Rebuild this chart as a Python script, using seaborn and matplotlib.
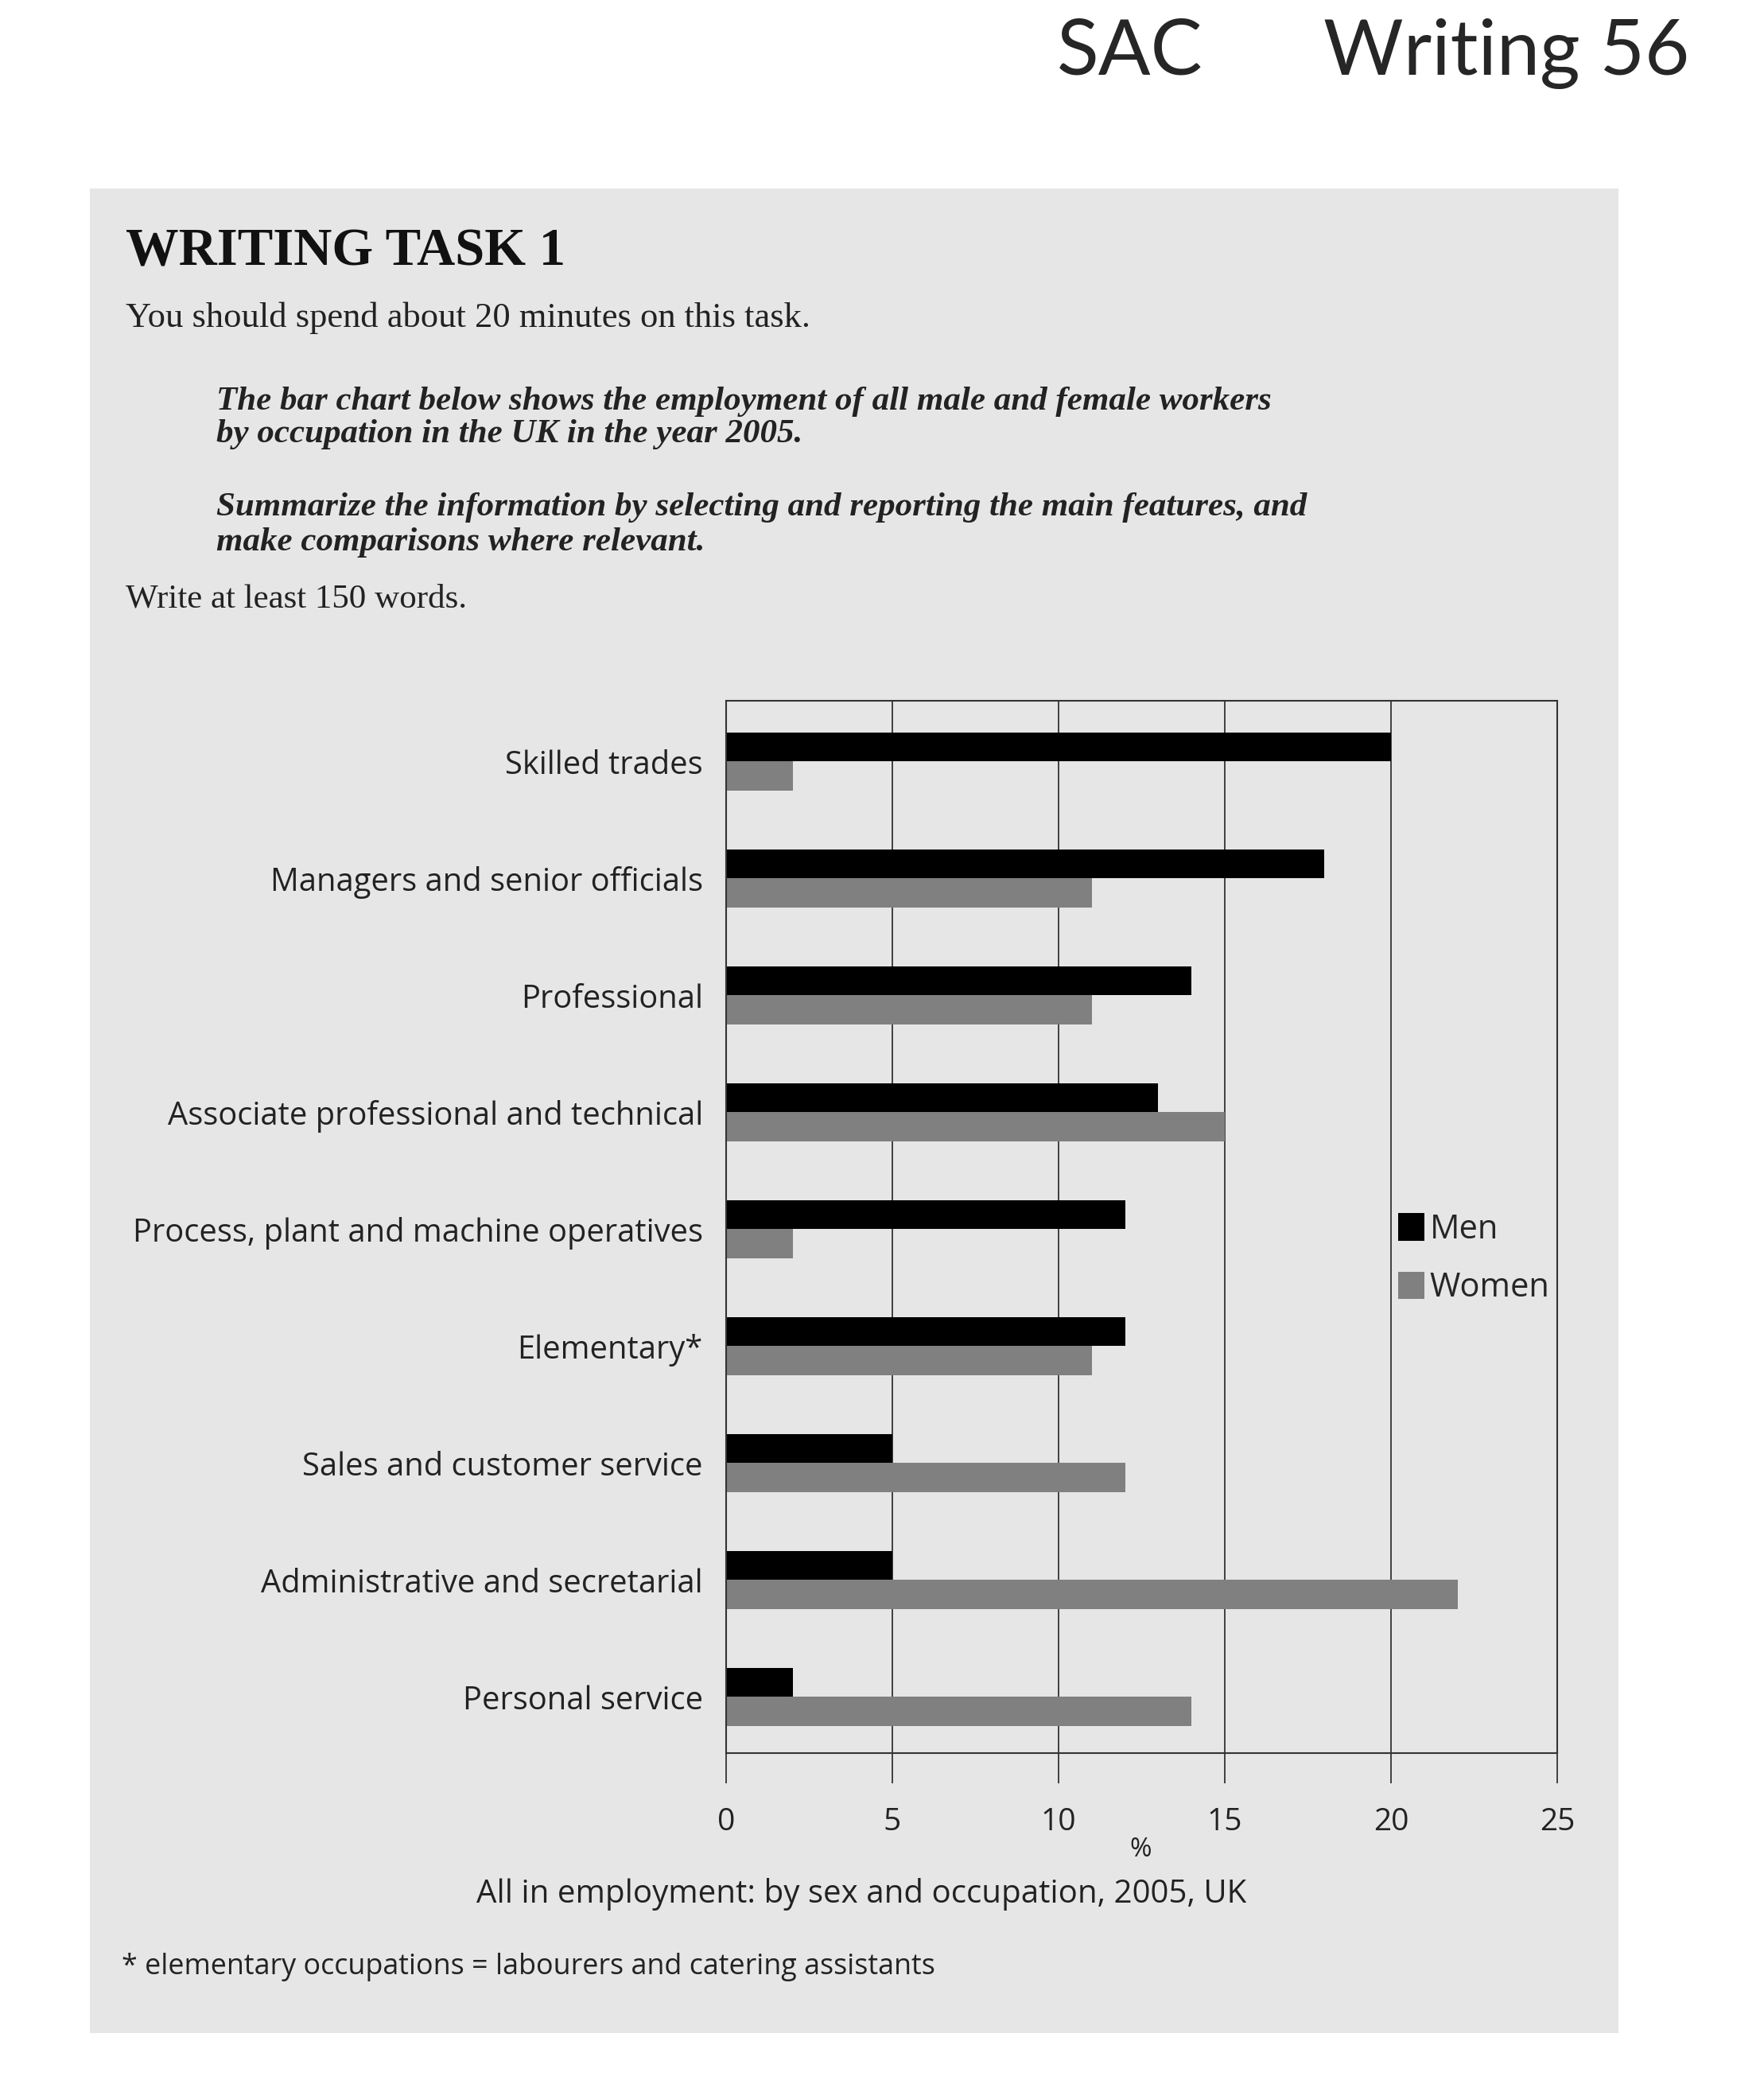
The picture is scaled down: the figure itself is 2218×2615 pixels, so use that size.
import numpy as np
import pandas as pd
import matplotlib
matplotlib.use("Agg")
import matplotlib.pyplot as plt
import seaborn as sns
from matplotlib.patches import Rectangle

# data (percent of all in employment, 2005, UK)
occupations = ["Skilled trades",
               "Managers and senior officials",
               "Professional",
               "Associate professional and technical",
               "Process, plant and machine operatives",
               "Elementary*",
               "Sales and customer service",
               "Administrative and secretarial",
               "Personal service"]
men = [20, 18, 14, 13, 12, 12, 5, 5, 2]
women = [2, 11, 11, 15, 2, 11, 12, 22, 14]
x_ticks = [0, 5, 10, 15, 20, 25]

df = pd.DataFrame({
	"occupation": occupations * 2,
	"sex": ["Men"] * len(men) + ["Women"] * len(women),
	"value": men + women,
})

sns.set_style("white")
plt.rcParams['font.family'] = ['Open Sans', 'DejaVu Sans']

W, H = 2218, 2615
fig = plt.figure(figsize=(W / 100, H / 100), dpi=100)
fig.patch.set_facecolor("white")

def fx(px):
	return px / W

def fy(py):
	return 1 - py / H

panel = "#e6e6e6"
line_col = "#333333"

# grey page panel behind everything
fig.patches.append(Rectangle((fx(113), fy(2556)), fx(2035) - fx(113),
							 fy(237) - fy(2556), transform=fig.transFigure,
							 facecolor=panel, edgecolor="none", zorder=-5))

# header
fig.text(fx(1329), fy(67), "SAC", fontsize=70, family="Lato",
		 va="center", ha="left")
fig.text(fx(1664), fy(67), "Writing 56", fontsize=70, family="Lato",
		 va="center", ha="left")

serif = "Liberation Serif"
fig.text(fx(158), fy(317), "WRITING TASK 1", fontsize=48, family=serif,
		 fontweight="bold", va="center", color="#111111")
fig.text(fx(158), fy(400), "You should spend about 20 minutes on this task.",
		 fontsize=32, family=serif, va="center", color="#222222")
italic_lines = [
	(505, "The bar chart below shows the employment of all male and female workers"),
	(546, "by occupation in the UK in the year 2005."),
	(638, "Summarize the information by selecting and reporting the main features, and"),
	(682, "make comparisons where relevant."),
]
for yy, txt in italic_lines:
	fig.text(fx(272), fy(yy), txt, fontsize=31, family=serif, style="italic",
			 fontweight="bold", va="center", color="#222222")
fig.text(fx(158), fy(753), "Write at least 150 words.", fontsize=31,
		 family=serif, va="center", color="#222222")

# chart
ax = fig.add_axes([fx(913), fy(2204), fx(1958) - fx(913), fy(881) - fy(2204)])
ax.set_facecolor(panel)

sns.barplot(data=df, x="value", y="occupation", hue="sex", orient="h",
			palette={"Men": "black", "Women": "#808080"}, saturation=1,
			width=0.5, linewidth=0, ax=ax)

ax.set_xlim(0, 25)
ax.set_ylim(8.48, -0.52)
ax.set_xticks(x_ticks)
ax.set_xticklabels([str(t) for t in x_ticks])
ax.set_xlabel("")
ax.set_ylabel("")

ax.set_axisbelow(True)
ax.xaxis.grid(True, color=line_col, linewidth=1.3)
ax.yaxis.grid(False)
for s in ax.spines.values():
	s.set_visible(True)
	s.set_color(line_col)
	s.set_linewidth(1.5)

ax.tick_params(axis="x", bottom=True, length=27, width=1.3, color=line_col,
			   pad=22, labelsize=28, labelcolor="#222222", direction="out")
ax.tick_params(axis="y", left=False, length=0, pad=21, labelsize=28.7,
			   labelcolor="#222222")

sns.move_legend(ax, loc="upper left", bbox_to_anchor=(fx(1758), fy(1525)),
				bbox_transform=fig.transFigure, title=None, frameon=False,
				fontsize=30, handlelength=0.8, handleheight=0.9,
				handletextpad=0.15, labelspacing=0.75, borderpad=0,
				borderaxespad=0)

# axis captions
fig.text(fx(1434), fy(2325), "%", fontsize=24, ha="center", va="center",
		 color="#222222")
fig.text(fx(1083), fy(2381), "All in employment: by sex and occupation, 2005, UK",
		 fontsize=29, ha="center", va="center", color="#222222")
fig.text(fx(153), fy(2473),
		 "* elementary occupations = labourers and catering assistants",
		 fontsize=25.8, ha="left", va="center", color="#222222")

fig.savefig("out.png", dpi=100, facecolor="white")
